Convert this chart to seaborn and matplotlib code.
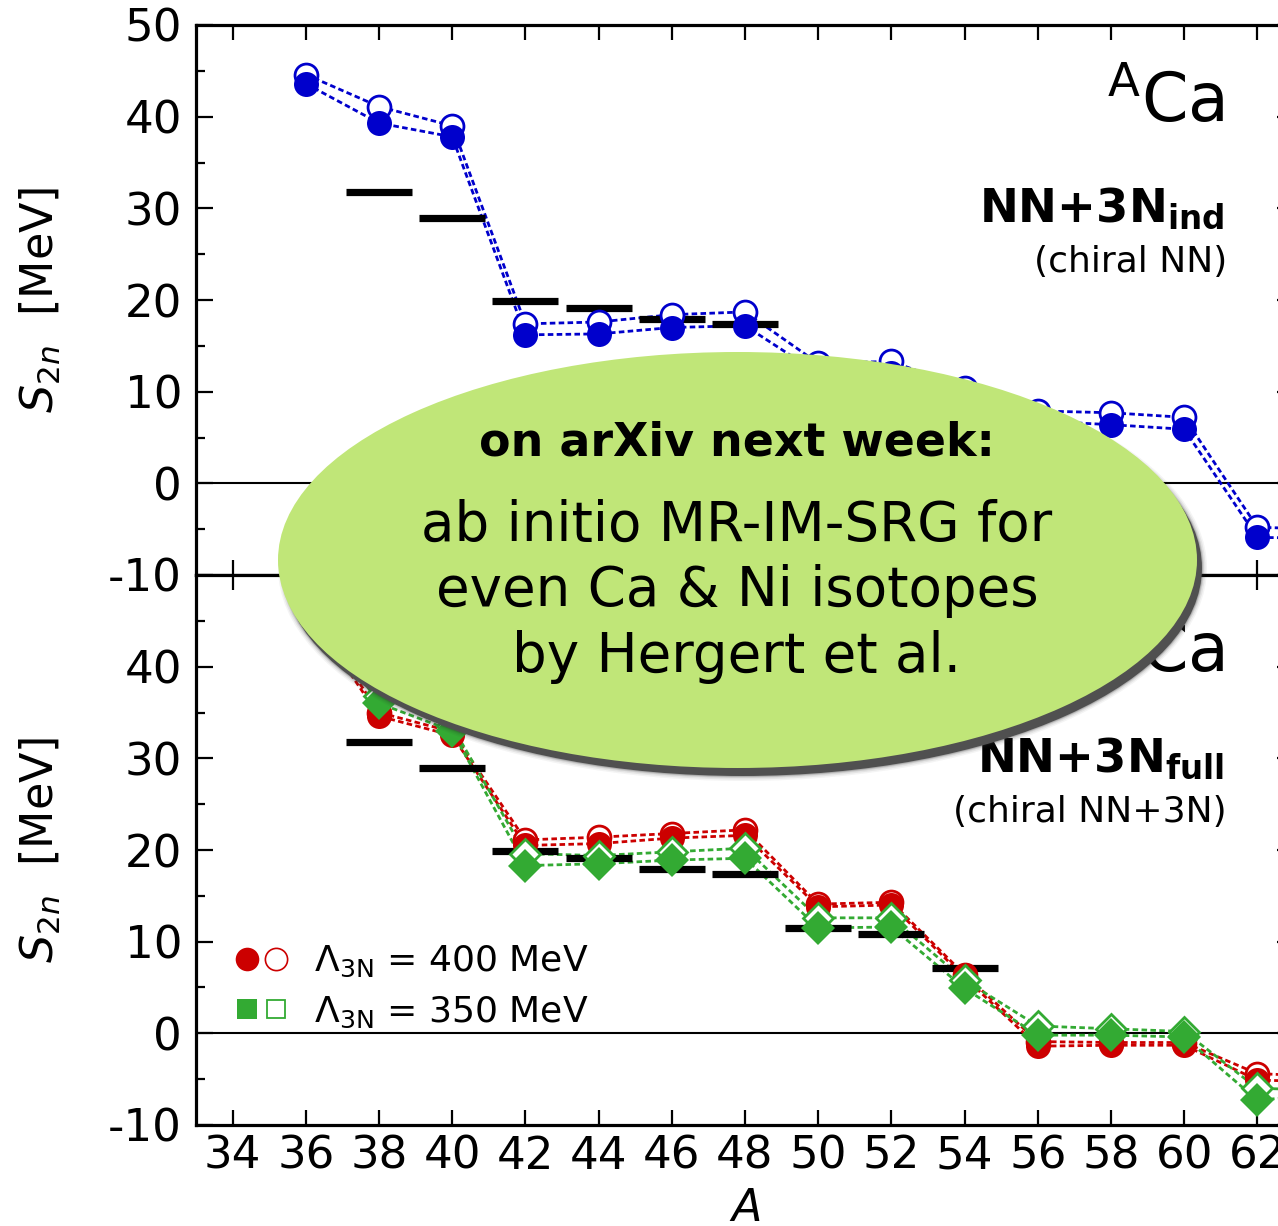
import matplotlib
matplotlib.use("Agg")
import matplotlib.pyplot as plt
import seaborn as sns
from matplotlib.patches import Ellipse
from matplotlib.lines import Line2D
from matplotlib.legend_handler import HandlerTuple

# ---------------- data ----------------
A = [36, 38, 40, 42, 44, 46, 48, 50, 52, 54, 56, 58, 60, 62, 64]

# top panel: NN+3N_ind (chiral NN)
ind_filled = [43.6, 39.3, 37.8, 16.2, 16.3, 17.0, 17.2, 12.0, 12.0, 9.2, 6.8, 6.4, 5.9, -5.9, -6.0]
ind_open = [44.6, 41.1, 39.0, 17.4, 17.6, 18.4, 18.7, 13.1, 13.3, 10.4, 7.9, 7.7, 7.2, -4.8, -5.0]

# bottom panel: NN+3N_full, Lambda_3N = 400 MeV (red) and 350 MeV (green)
full400_filled = [46.5, 34.6, 32.5, 20.5, 20.7, 21.3, 21.6, 13.8, 14.0, 6.1, -1.4, -1.3, -1.3, -5.1, -5.3]
full400_open = [47.0, 35.0, 32.9, 21.1, 21.4, 21.8, 22.2, 14.1, 14.3, 6.4, -0.9, -1.0, -1.0, -4.4, -4.7]
full350_filled = [47.5, 36.0, 33.0, 18.3, 18.5, 18.9, 19.1, 11.5, 11.6, 4.9, -0.2, -0.2, -0.4, -7.3, -6.6]
full350_open = [47.8, 36.8, 33.5, 19.6, 19.4, 19.8, 20.2, 12.6, 12.6, 5.8, 0.8, 0.5, 0.2, -6.0, -6.2]

# experiment
exp_A = [38, 40, 42, 44, 46, 48, 50, 52, 54]
exp_s2n = [31.8, 29.0, 19.9, 19.1, 17.9, 17.4, 11.5, 10.8, 7.1]

x_ticks = list(range(34, 63, 2))
y_ticks_top = [-10, 0, 10, 20, 30, 40, 50]
y_ticks_bot = [-10, 0, 10, 20, 30, 40]
y_minor = [-5, 5, 15, 25, 35, 45]

legend_labels = [r"$\Lambda_{\mathrm{3N}}$ = 400 MeV", r"$\Lambda_{\mathrm{3N}}$ = 350 MeV"]
note_lines = ["on arXiv next week:", "ab initio MR-IM-SRG for",
              "even Ca & Ni isotopes", "by Hergert et al."]

# ---------------- style ----------------
sns.set_style("ticks")
plt.rcParams["font.family"] = ["DejaVu Sans"]
plt.rcParams["mathtext.fontset"] = "dejavusans"
plt.rcParams["axes.unicode_minus"] = False
for key in ("text.color", "axes.labelcolor", "xtick.color", "ytick.color", "axes.edgecolor"):
    plt.rcParams[key] = "black"

BLUE = "#0000CC"
RED = "#CC0000"
GREEN = "#33AA33"
ELL = "#C0E678"

W, H = 1278, 1226
fig = plt.figure(figsize=(W / 100, H / 100), dpi=100)


def fx(px):
    return px / W


def fy(py):
    return 1 - py / H


ax_w = (1294 - 196) / W
ax_top = fig.add_axes([fx(196), fy(575), ax_w, 550 / H])
ax_bot = fig.add_axes([fx(196), fy(1125), ax_w, 550 / H])

DASH = (0, (2.0, 1.2))


def draw_line(ax, y, color):
    sns.lineplot(x=A, y=y, ax=ax, color=color, lw=2.0, linestyle=DASH,
                 errorbar=None, sort=False, zorder=2)


def draw_markers(ax, y, color, marker, ms, filled, z):
    if filled:
        sns.lineplot(x=A, y=y, ax=ax, color=color, linestyle="none", marker=marker,
                     markersize=ms, markerfacecolor=color, markeredgecolor=color,
                     markeredgewidth=0, errorbar=None, sort=False, zorder=z)
    else:
        sns.lineplot(x=A, y=y, ax=ax, color=color, linestyle="none", marker=marker,
                     markersize=ms - 1.5, markerfacecolor="white", markeredgecolor=color,
                     markeredgewidth=2.0, errorbar=None, sort=False, zorder=z)


def draw_exp(ax):
    sns.lineplot(x=exp_A, y=exp_s2n, ax=ax, color="black", linestyle="none", marker="_",
                 markersize=47, markeredgewidth=5.2, markeredgecolor="black",
                 errorbar=None, sort=False, zorder=3)


# top panel
draw_line(ax_top, ind_open, BLUE)
draw_line(ax_top, ind_filled, BLUE)
draw_exp(ax_top)
draw_markers(ax_top, ind_open, BLUE, "o", 18, False, 4)
draw_markers(ax_top, ind_filled, BLUE, "o", 18, True, 5)

# bottom panel
draw_line(ax_bot, full400_open, RED)
draw_line(ax_bot, full400_filled, RED)
draw_line(ax_bot, full350_open, GREEN)
draw_line(ax_bot, full350_filled, GREEN)
draw_exp(ax_bot)
draw_markers(ax_bot, full400_open, RED, "o", 18, False, 4)
draw_markers(ax_bot, full400_filled, RED, "o", 18, True, 5)
draw_markers(ax_bot, full350_open, GREEN, "D", 17, False, 6)
draw_markers(ax_bot, full350_filled, GREEN, "D", 17, True, 7)

for ax, yt in ((ax_top, y_ticks_top), (ax_bot, y_ticks_bot)):
    ax.axhline(0, color="black", lw=1.5, zorder=1.5)
    ax.set_xlim(33, 63)
    ax.set_ylim(-10, 50)
    ax.set_xticks(x_ticks)
    ax.set_yticks(yt)
    ax.set_yticks(y_minor, minor=True)
    ax.set_yticklabels([str(v) for v in yt])
    ax.tick_params(axis="both", which="both", direction="in", width=1.6, labelsize=32.5,
                   color="black", labelcolor="black")
    ax.tick_params(axis="x", which="major", length=11, top=True, bottom=True, pad=7)
    ax.tick_params(axis="y", which="major", length=12, left=True, right=True, pad=10)
    ax.tick_params(axis="y", which="minor", length=6.5, left=True, right=True)
    for s in ax.spines.values():
        s.set_linewidth(2.3)
        s.set_color("black")
        s.set_visible(True)
    ax.set_ylabel(r"$S_{2n}$  [MeV]", fontsize=32, color="black")
    ax.yaxis.set_label_coords(-0.121, 0.5)
    ax.text(0.937, 0.823, r"$^{\mathrm{A}}$Ca", transform=ax.transAxes, ha="right",
            va="baseline", fontsize=48, color="black")

ax_top.tick_params(axis="x", labelbottom=False)
ax_top.set_xlabel("")
ax_bot.set_xlabel(r"$A$", fontsize=32, labelpad=7, color="black")

ax_top.text(0.937, 0.642, r"NN+3N$_{\mathbf{ind}}$", transform=ax_top.transAxes,
            ha="right", va="baseline", fontsize=33.5, fontweight="bold", color="black")
ax_top.text(0.939, 0.551, "(chiral NN)", transform=ax_top.transAxes,
            ha="right", va="baseline", fontsize=26, color="black")
ax_bot.text(0.937, 0.642, r"NN+3N$_{\mathbf{full}}$", transform=ax_bot.transAxes,
            ha="right", va="baseline", fontsize=33.5, fontweight="bold", color="black")
ax_bot.text(0.939, 0.551, "(chiral NN+3N)", transform=ax_bot.transAxes,
            ha="right", va="baseline", fontsize=26, color="black")

# legend
h400 = (Line2D([], [], marker="o", color=RED, linestyle="none", markersize=17, markeredgewidth=0),
        Line2D([], [], marker="o", color=RED, linestyle="none", markersize=16,
               markerfacecolor="white", markeredgewidth=1.2))
h350 = (Line2D([], [], marker="s", color=GREEN, linestyle="none", markersize=14, markeredgewidth=0),
        Line2D([], [], marker="s", color=GREEN, linestyle="none", markersize=13,
               markerfacecolor="white", markeredgewidth=1.3))
leg = ax_bot.legend([h400, h350], legend_labels,
                    handler_map={tuple: HandlerTuple(ndivide=None, pad=0.0)},
                    loc="upper left", bbox_to_anchor=((233 - 196) / 1098, 0.329), frameon=False,
                    fontsize=26, handlelength=1.6, handletextpad=0.65, labelspacing=0.42,
                    borderpad=0, borderaxespad=0)
for t in leg.get_texts():
    t.set_color("black")

# highlighted note ellipse with shadow
cx, cy, ew, eh = 737.5, 560, 919, 416
off_x, off_y = 5, 8
for grow, alpha in ((10, 0.05), (7, 0.08), (4, 0.12), (2, 0.2)):
    fig.add_artist(Ellipse((fx(cx + off_x), fy(cy + off_y)), (ew + grow) / W, (eh + grow) / H,
                           transform=fig.transFigure, facecolor="#303030", edgecolor="none",
                           alpha=alpha, zorder=10))
fig.add_artist(Ellipse((fx(cx + off_x), fy(cy + off_y)), ew / W, eh / H,
                       transform=fig.transFigure, facecolor="#505050", edgecolor="none", zorder=11))
fig.add_artist(Ellipse((fx(cx), fy(cy)), ew / W, eh / H, transform=fig.transFigure,
                       facecolor=ELL, edgecolor="none", zorder=12))

fig.text(fx(737), fy(455), note_lines[0], ha="center", va="baseline", fontsize=33,
         fontweight="bold", color="black", zorder=13)
for line, base in zip(note_lines[1:], (541, 606, 672)):
    fig.text(fx(737), fy(base), line, ha="center", va="baseline", fontsize=39.4,
             color="black", zorder=13)

fig.savefig("out.png", dpi=100)
